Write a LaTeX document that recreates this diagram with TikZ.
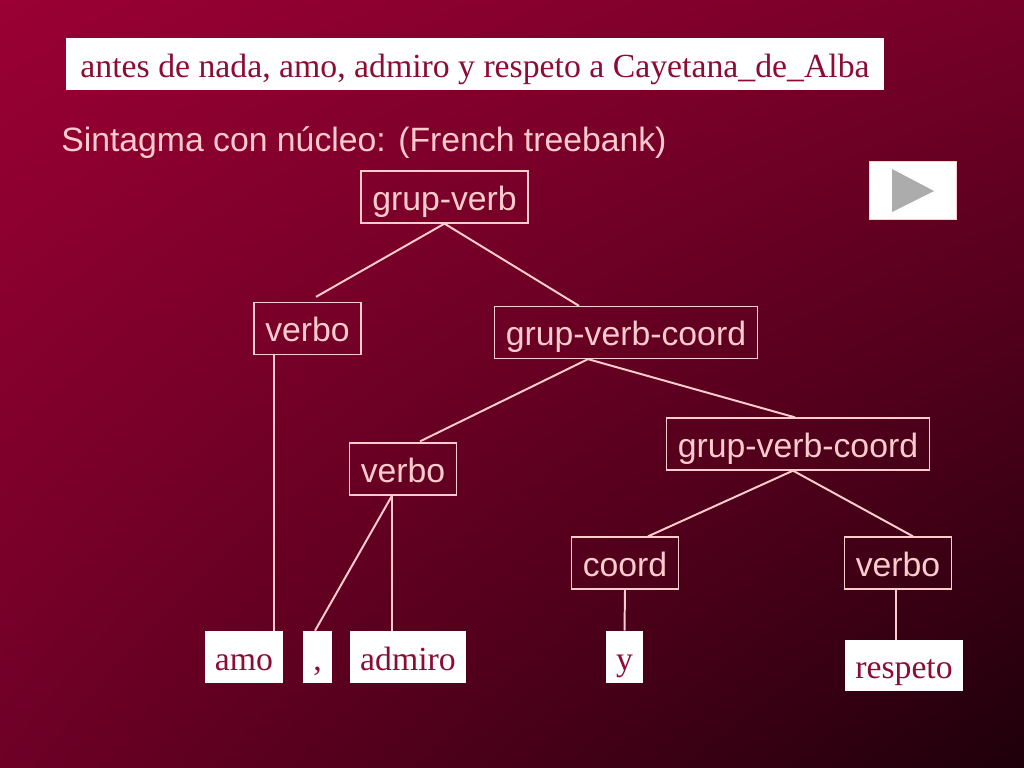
\documentclass[tikz,border=0pt]{standalone}
\usepackage{fontspec}
\setmainfont{Liberation Serif}
\setsansfont{Liberation Sans}
\usepackage{tikz}
\usetikzlibrary{calc, shadings}
\definecolor{pinkline}{RGB}{255,204,206}
\definecolor{wordred}{RGB}{140,12,52}
\definecolor{bgtl}{RGB}{154,0,52}
\definecolor{bgtr}{RGB}{118,0,40}
\definecolor{bgbl}{RGB}{110,0,38}
\definecolor{bgbr}{RGB}{30,0,10}
\tikzset{
  cat/.style={rectangle, draw=pinkline, line width=0.9pt, text=pinkline, font=\sffamily\fontsize{24}{28}\selectfont, minimum height=1.3cm, inner xsep=8pt, inner ysep=0pt, text height=22pt, text depth=3pt},
  word/.style={rectangle, fill=white, text=wordred, font=\rmfamily\fontsize{24}{28}\selectfont, minimum height=1.3cm, inner xsep=7pt, inner ysep=0pt, text height=22pt, text depth=3pt},
  branch/.style={draw=pinkline, line width=1.4pt}
}

\begin{document}
\begin{tikzpicture}[x=0.025cm, y=-0.025cm]
  \useasboundingbox (0,0) rectangle (1024,768);
  \shade[upper left=bgtl, upper right=bgtr, lower left=bgbl, lower right=bgbr] (0,0) rectangle (1024,768);

  % heading
  \node (title) [word, minimum width=20.45cm] at (475,64) {antes de nada, amo, admiro y respeto a Cayetana\_de\_Alba};
  \node (sub) [anchor=base west, inner sep=0, text=pinkline, font=\sffamily\fontsize{24}{28}\selectfont] at (61,151) {Sintagma con núcleo: (French treebank)};
  \node (play) [rectangle, fill=white, draw=pinkline, line width=0.6pt, minimum width=2.175cm, minimum height=1.45cm] at (912.5,190) {};
  \fill [gray!65] ($(play.center)+(-20.5,-21)$) -- ($(play.center)+(-20.5,22)$) -- ($(play.center)+(21.5,1)$) -- cycle;

  % tree
  \node (gv) [cat] at (444.5,197) {grup-verb};
  \node (v1) [cat] at (307.5,328.5) {verbo};
  \node (gvc1) [cat] at (626,332.5) {grup-verb-coord};
  \node (v2) [cat] at (403,469) {verbo};
  \node (gvc2) [cat] at (798,444) {grup-verb-coord};
  \node (coord) [cat] at (625,563) {coord};
  \node (v3) [cat] at (898,563) {verbo};

  % words
  \node (wamo) [word] at (244,657) {amo};
  \node (wcomma) [word] at (317.5,657) {,};
  \node (wadmiro) [word] at (408,657) {admiro};
  \node (wy) [word] at (624.5,657) {y};
  \node (wrespeto) [word, minimum height=1.275cm] at (904,665.5) {respeto};

  \draw [branch] (gv.south) -- ($(v1.north)+(8.5,-5)$);
  \draw [branch] (gv.south) -- ($(gvc1.north)+(-47,0)$);
  \draw [branch] ($(gvc1.south)+(-38,0)$) -- ($(v2.north)+(17,-1)$);
  \draw [branch] ($(gvc1.south)+(-38,0)$) -- ($(gvc2.north)+(-3,0)$);
  \draw [branch] ($(gvc2.south)+(-5,0)$) -- ($(coord.north)+(23,0)$);
  \draw [branch] ($(gvc2.south)+(-5,0)$) -- ($(v3.north)+(15,0)$);
  \draw [branch] ($(v1.south)+(-33.5,0)$) -- ($(wamo.north)+(30,0)$);
  \draw [branch] ($(v2.south)+(-11,0)$) -- ($(wcomma.north)+(-2.5,0)$);
  \draw [branch] ($(v2.south)+(-11,0)$) -- ($(wadmiro.north)+(-16,0)$);
  \draw [branch] (coord.south) -- (wy.north);
  \draw [branch] ($(v3.south)+(-2,0)$) -- ($(wrespeto.north)+(-8,0)$);
\end{tikzpicture}
\end{document}
